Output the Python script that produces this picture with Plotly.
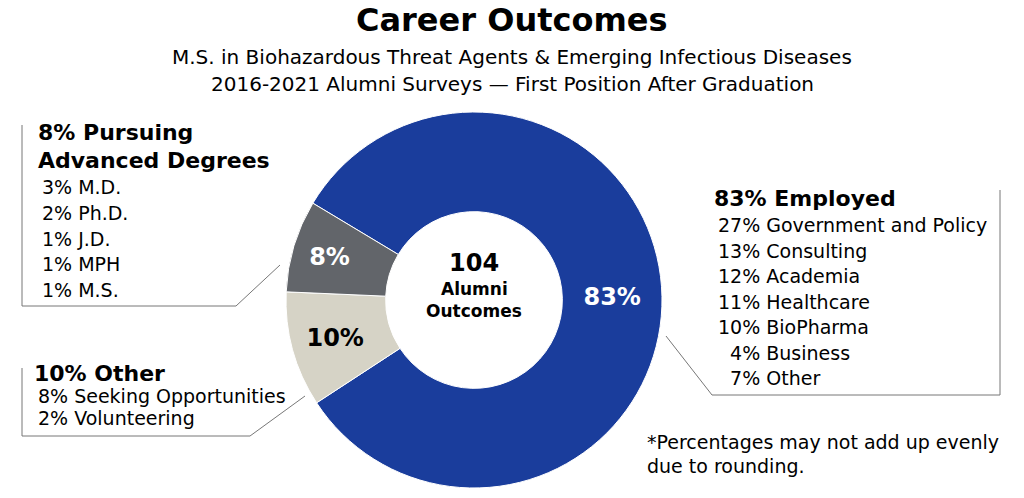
import plotly.graph_objects as go

labels = ['Employed', 'Other', 'Pursuing Advanced Degrees']
values = [83, 10, 8]
slice_text = ['83%', '10%', '8%']
colors = ['#1a3d9c', '#d6d3c6', '#62656a']

employed_items = ['27% Government and Policy', '13% Consulting', '12% Academia',
                  '11% Healthcare', '10% BioPharma', '  4% Business', '  7% Other']
degree_items = ['3% M.D.', '2% Ph.D.', '1% J.D.', '1% MPH', '1% M.S.']
other_items = ['8% Seeking Opportunities', '2% Volunteering']

W, H = 1024, 498
OFF = 8  # page body margin
FONT = 'DejaVu Sans'


def px(x, y):
    return (x - OFF) / W, 1 - (y - OFF) / H


fig = go.Figure(go.Pie(
    labels=labels, values=values, text=slice_text, texttemplate='<b>%{text}</b>',
    textinfo='text', hole=0.47, sort=False, direction='clockwise', rotation=301,
    marker=dict(colors=colors, line=dict(color='white', width=1)),
    textfont=dict(size=24, family=FONT, color=['white', 'black', 'white']),
    domain=dict(x=[(286 - OFF) / W, (662 - OFF) / W], y=[(10 + OFF) / H, (386 + OFF) / H]),
    showlegend=False, hoverinfo='label+percent'))

ann = []


def txt(x, y, s, size=19, bold=False, anchor='left'):
    xx, yy = px(x, y)
    ann.append(dict(x=xx, y=yy, xref='paper', yref='paper', xanchor=anchor, yanchor='middle',
                    text=f'<b>{s}</b>' if bold else s, showarrow=False,
                    font=dict(family=FONT, size=size, color='black')))


txt(512, 20, 'Career Outcomes', size=32, bold=True, anchor='center')
txt(512, 57, 'M.S. in Biohazardous Threat Agents & Emerging Infectious Diseases', size=20, anchor='center')
txt(512, 84, '2016-2021 Alumni Surveys \u2014 First Position After Graduation', size=20, anchor='center')

txt(474, 263, '104', size=24, bold=True, anchor='center')
txt(474, 289, 'Alumni', size=17, bold=True, anchor='center')
txt(474, 311, 'Outcomes', size=17, bold=True, anchor='center')

txt(712, 198, f'{values[0]}% Employed', size=22, bold=True)
for i, s in enumerate(employed_items):
    txt(716, 225 + 25.5 * i, s.replace(' ', '&nbsp;') if s.startswith(' ') else s)

txt(36, 132, f'{values[2]}% Pursuing', size=22, bold=True)
txt(36, 160, 'Advanced Degrees', size=22, bold=True)
for i, s in enumerate(degree_items):
    txt(40, 187 + 25.8 * i, s)

txt(32, 373, f'{values[1]}% Other', size=22, bold=True)
for i, s in enumerate(other_items):
    txt(36, 396 + 22 * i, s)

txt(645, 442, '*Percentages may not add up evenly', size=19)
txt(645, 466, 'due to rounding.', size=19)

shapes = []


def path(points):
    p = 'M ' + ' L '.join(f'{px(x, y)[0]} {px(x, y)[1]}' for x, y in points)
    shapes.append(dict(type='path', path=p, xref='paper', yref='paper',
                       line=dict(color='#777777', width=1)))


path([(22, 125), (22, 306), (236, 306), (280, 265)])
path([(22, 368), (22, 436), (250, 436), (305, 396)])
path([(1000, 190), (1000, 395), (712, 395), (666, 336)])

fig.update_layout(width=W, height=H, margin=dict(l=0, r=0, t=0, b=0),
                  paper_bgcolor='white', annotations=ann, shapes=shapes)
fig.write_html('out.html')
